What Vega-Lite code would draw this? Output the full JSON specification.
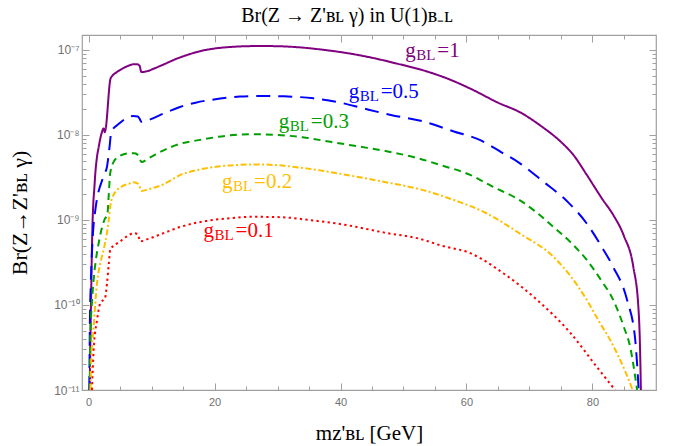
{
  "$schema": "https://vega.github.io/schema/vega-lite/v6.json",
  "width": 574,
  "height": 355,
  "autosize": {"type": "none"},
  "padding": {"left": 82, "top": 35, "right": 28, "bottom": 56},
  "background": "white",
  "config": {"view": {"stroke": "#a0a0a0", "strokeWidth": 1.2}},
  "title": {
    "text": "Br(Z → Z'ʙʟ γ) in U(1)ʙ₋ʟ",
    "font": "Liberation Serif",
    "fontSize": 20,
    "fontWeight": "normal",
    "color": "#000000",
    "anchor": "middle",
    "dx": -22,
    "offset": 9
  },
  "datasets": {
    "curves": [
      {"g": "1", "m": 0.16, "br": 1e-11}, {"g": "1", "m": 0.3, "br": 4.5e-11}, {"g": "1", "m": 0.45, "br": 2.2e-10}, {"g": "1", "m": 0.6, "br": 8e-10}, {"g": "1", "m": 0.75, "br": 1.6e-9}, {"g": "1", "m": 0.9, "br": 2.3e-9}, {"g": "1", "m": 1.06, "br": 3.5e-9}, {"g": "1", "m": 1.3, "br": 5.3e-9}, {"g": "1", "m": 1.6, "br": 7.2e-9}, {"g": "1", "m": 1.9, "br": 9.4e-9}, {"g": "1", "m": 2.15, "br": 1.1e-8}, {"g": "1", "m": 2.35, "br": 1.19e-8}, {"g": "1", "m": 2.45, "br": 1.19e-8}, {"g": "1", "m": 2.55, "br": 1.08e-8}, {"g": "1", "m": 2.65, "br": 1.12e-8}, {"g": "1", "m": 3.5, "br": 4.64e-8}, {"g": "1", "m": 4.5, "br": 5.5e-8}, {"g": "1", "m": 5.5, "br": 6.1e-8}, {"g": "1", "m": 6.5, "br": 6.6e-8}, {"g": "1", "m": 7.1, "br": 6.8e-8}, {"g": "1", "m": 7.7, "br": 6.8e-8}, {"g": "1", "m": 8.1, "br": 6.5e-8}, {"g": "1", "m": 8.37, "br": 5.5e-8}, {"g": "1", "m": 9.2, "br": 5.6e-8}, {"g": "1", "m": 10.5, "br": 6.1e-8}, {"g": "1", "m": 12, "br": 6.8e-8}, {"g": "1", "m": 14, "br": 7.9e-8}, {"g": "1", "m": 16, "br": 8.9e-8}, {"g": "1", "m": 18, "br": 9.8e-8}, {"g": "1", "m": 20, "br": 1.04e-7}, {"g": "1", "m": 23, "br": 1.09e-7}, {"g": "1", "m": 26, "br": 1.11e-7}, {"g": "1", "m": 29, "br": 1.11e-7}, {"g": "1", "m": 33, "br": 1.08e-7}, {"g": "1", "m": 37, "br": 1.01e-7}, {"g": "1", "m": 41, "br": 9.2e-8}, {"g": "1", "m": 45, "br": 8.1e-8}, {"g": "1", "m": 49, "br": 6.9e-8}, {"g": "1", "m": 53, "br": 5.8e-8}, {"g": "1", "m": 57, "br": 4.6e-8}, {"g": "1", "m": 61, "br": 3.4e-8}, {"g": "1", "m": 65, "br": 2.4e-8}, {"g": "1", "m": 68.5, "br": 1.85e-8}, {"g": "1", "m": 72, "br": 1.25e-8}, {"g": "1", "m": 75, "br": 8.3e-9}, {"g": "1", "m": 77, "br": 5.8e-9}, {"g": "1", "m": 79.1, "br": 3.4e-9}, {"g": "1", "m": 81.6, "br": 1.75e-9}, {"g": "1", "m": 83.3, "br": 1.15e-9}, {"g": "1", "m": 85, "br": 6.5e-10}, {"g": "1", "m": 86.5, "br": 2.8e-10}, {"g": "1", "m": 87.3, "br": 9.5e-11}, {"g": "1", "m": 87.57, "br": 3e-11}, {"g": "1", "m": 87.7, "br": 1e-11},

      {"g": "0.5", "m": 0.12, "br": 1e-11}, {"g": "0.5", "m": 0.2, "br": 6e-11}, {"g": "0.5", "m": 0.35, "br": 1.8e-10}, {"g": "0.5", "m": 0.55, "br": 4.5e-10}, {"g": "0.5", "m": 0.8, "br": 9e-10}, {"g": "0.5", "m": 1.06, "br": 1.3e-9}, {"g": "0.5", "m": 1.4, "br": 1.9e-9}, {"g": "0.5", "m": 1.75, "br": 2.4e-9}, {"g": "0.5", "m": 2.2, "br": 3e-9}, {"g": "0.5", "m": 2.6, "br": 3.6e-9}, {"g": "0.5", "m": 2.85, "br": 4e-9}, {"g": "0.5", "m": 3.33, "br": 7.3e-9}, {"g": "0.5", "m": 3.6, "br": 1.09e-8}, {"g": "0.5", "m": 4.9, "br": 1.37e-8}, {"g": "0.5", "m": 6, "br": 1.58e-8}, {"g": "0.5", "m": 7.05, "br": 1.67e-8}, {"g": "0.5", "m": 7.8, "br": 1.65e-8}, {"g": "0.5", "m": 8.1, "br": 1.55e-8}, {"g": "0.5", "m": 8.37, "br": 1.43e-8}, {"g": "0.5", "m": 9.5, "br": 1.5e-8}, {"g": "0.5", "m": 12, "br": 1.8e-8}, {"g": "0.5", "m": 14.6, "br": 2.15e-8}, {"g": "0.5", "m": 17, "br": 2.4e-8}, {"g": "0.5", "m": 20.9, "br": 2.68e-8}, {"g": "0.5", "m": 24, "br": 2.83e-8}, {"g": "0.5", "m": 27.8, "br": 2.88e-8}, {"g": "0.5", "m": 31, "br": 2.85e-8}, {"g": "0.5", "m": 35.7, "br": 2.7e-8}, {"g": "0.5", "m": 40, "br": 2.4e-8}, {"g": "0.5", "m": 43.7, "br": 2.05e-8}, {"g": "0.5", "m": 48, "br": 1.72e-8}, {"g": "0.5", "m": 53, "br": 1.45e-8}, {"g": "0.5", "m": 58, "br": 1.1e-8}, {"g": "0.5", "m": 62.2, "br": 8.7e-9}, {"g": "0.5", "m": 65.5, "br": 6.3e-9}, {"g": "0.5", "m": 68.5, "br": 4.64e-9}, {"g": "0.5", "m": 72, "br": 2.9e-9}, {"g": "0.5", "m": 76.2, "br": 1.6e-9}, {"g": "0.5", "m": 79.1, "br": 9.1e-10}, {"g": "0.5", "m": 81.5, "br": 4.8e-10}, {"g": "0.5", "m": 83.3, "br": 2.8e-10}, {"g": "0.5", "m": 85.5, "br": 1.15e-10}, {"g": "0.5", "m": 86.8, "br": 3.9e-11}, {"g": "0.5", "m": 87.35, "br": 1e-11},

      {"g": "0.3", "m": 0.2, "br": 1e-11}, {"g": "0.3", "m": 0.27, "br": 4.2e-11}, {"g": "0.3", "m": 0.5, "br": 1e-10}, {"g": "0.3", "m": 0.8, "br": 2e-10}, {"g": "0.3", "m": 1.2, "br": 3.6e-10}, {"g": "0.3", "m": 1.59, "br": 5.3e-10}, {"g": "0.3", "m": 2, "br": 7.5e-10}, {"g": "0.3", "m": 2.5, "br": 1e-9}, {"g": "0.3", "m": 3, "br": 1.2e-9}, {"g": "0.3", "m": 3.2, "br": 2e-9}, {"g": "0.3", "m": 3.44, "br": 3.6e-9}, {"g": "0.3", "m": 4.1, "br": 5e-9}, {"g": "0.3", "m": 5, "br": 5.7e-9}, {"g": "0.3", "m": 6.5, "br": 6.1e-9}, {"g": "0.3", "m": 7.3, "br": 6.1e-9}, {"g": "0.3", "m": 8, "br": 5.6e-9}, {"g": "0.3", "m": 8.37, "br": 4.8e-9}, {"g": "0.3", "m": 9.5, "br": 5.3e-9}, {"g": "0.3", "m": 11.9, "br": 6.6e-9}, {"g": "0.3", "m": 14.6, "br": 7.9e-9}, {"g": "0.3", "m": 17.5, "br": 8.7e-9}, {"g": "0.3", "m": 22.5, "br": 9.9e-9}, {"g": "0.3", "m": 26, "br": 1.02e-8}, {"g": "0.3", "m": 30, "br": 1e-8}, {"g": "0.3", "m": 34, "br": 9.4e-9}, {"g": "0.3", "m": 38.4, "br": 8.3e-9}, {"g": "0.3", "m": 43, "br": 7.3e-9}, {"g": "0.3", "m": 47.5, "br": 6.4e-9}, {"g": "0.3", "m": 52, "br": 5.4e-9}, {"g": "0.3", "m": 56, "br": 4.4e-9}, {"g": "0.3", "m": 60.6, "br": 3.39e-9}, {"g": "0.3", "m": 64, "br": 2.5e-9}, {"g": "0.3", "m": 68.5, "br": 1.7e-9}, {"g": "0.3", "m": 71, "br": 1.25e-9}, {"g": "0.3", "m": 73.8, "br": 8.3e-10}, {"g": "0.3", "m": 76.5, "br": 5.5e-10}, {"g": "0.3", "m": 79.1, "br": 3.39e-10}, {"g": "0.3", "m": 81.5, "br": 1.9e-10}, {"g": "0.3", "m": 83.3, "br": 1.15e-10}, {"g": "0.3", "m": 85, "br": 5.5e-11}, {"g": "0.3", "m": 86, "br": 3.2e-11}, {"g": "0.3", "m": 87.1, "br": 1e-11},

      {"g": "0.2", "m": 0.3, "br": 1e-11}, {"g": "0.2", "m": 0.38, "br": 1.9e-11}, {"g": "0.2", "m": 0.8, "br": 5.6e-11}, {"g": "0.2", "m": 1.33, "br": 1.8e-10}, {"g": "0.2", "m": 1.9, "br": 3.2e-10}, {"g": "0.2", "m": 2.38, "br": 4.46e-10}, {"g": "0.2", "m": 2.9, "br": 7e-10}, {"g": "0.2", "m": 3.2, "br": 1e-9}, {"g": "0.2", "m": 3.44, "br": 1.45e-9}, {"g": "0.2", "m": 3.97, "br": 1.98e-9}, {"g": "0.2", "m": 5.2, "br": 2.46e-9}, {"g": "0.2", "m": 6.6, "br": 2.7e-9}, {"g": "0.2", "m": 7.2, "br": 2.78e-9}, {"g": "0.2", "m": 7.9, "br": 2.65e-9}, {"g": "0.2", "m": 8.4, "br": 2.2e-9}, {"g": "0.2", "m": 9.5, "br": 2.3e-9}, {"g": "0.2", "m": 11.9, "br": 2.63e-9}, {"g": "0.2", "m": 14.6, "br": 3.4e-9}, {"g": "0.2", "m": 17.5, "br": 3.9e-9}, {"g": "0.2", "m": 20.5, "br": 4.25e-9}, {"g": "0.2", "m": 23.6, "br": 4.44e-9}, {"g": "0.2", "m": 27, "br": 4.5e-9}, {"g": "0.2", "m": 29.4, "br": 4.44e-9}, {"g": "0.2", "m": 35, "br": 4e-9}, {"g": "0.2", "m": 41, "br": 3.39e-9}, {"g": "0.2", "m": 47, "br": 2.8e-9}, {"g": "0.2", "m": 52.6, "br": 2.3e-9}, {"g": "0.2", "m": 57.9, "br": 1.73e-9}, {"g": "0.2", "m": 63.2, "br": 1.2e-9}, {"g": "0.2", "m": 68.5, "br": 6.9e-10}, {"g": "0.2", "m": 73.8, "br": 3.7e-10}, {"g": "0.2", "m": 76.5, "br": 2.2e-10}, {"g": "0.2", "m": 79.1, "br": 1.15e-10}, {"g": "0.2", "m": 81, "br": 6.5e-11}, {"g": "0.2", "m": 82.8, "br": 3.9e-11}, {"g": "0.2", "m": 85.3, "br": 1.6e-11}, {"g": "0.2", "m": 86.4, "br": 1e-11},

      {"g": "0.1", "m": 0.53, "br": 1e-11}, {"g": "0.1", "m": 0.8, "br": 2.95e-11}, {"g": "0.1", "m": 1.33, "br": 6.6e-11}, {"g": "0.1", "m": 1.86, "br": 1.05e-10}, {"g": "0.1", "m": 2.38, "br": 1.15e-10}, {"g": "0.1", "m": 2.6, "br": 1.2e-10}, {"g": "0.1", "m": 2.92, "br": 1.8e-10}, {"g": "0.1", "m": 3.2, "br": 3e-10}, {"g": "0.1", "m": 3.44, "br": 4.5e-10}, {"g": "0.1", "m": 5.03, "br": 5.6e-10}, {"g": "0.1", "m": 6.2, "br": 6.5e-10}, {"g": "0.1", "m": 7.14, "br": 7e-10}, {"g": "0.1", "m": 7.8, "br": 6.8e-10}, {"g": "0.1", "m": 8.2, "br": 5.6e-10}, {"g": "0.1", "m": 9.5, "br": 6e-10}, {"g": "0.1", "m": 11.9, "br": 7e-10}, {"g": "0.1", "m": 14.6, "br": 8.3e-10}, {"g": "0.1", "m": 17.2, "br": 9.3e-10}, {"g": "0.1", "m": 22.5, "br": 1.05e-9}, {"g": "0.1", "m": 26, "br": 1.09e-9}, {"g": "0.1", "m": 30.4, "br": 1.08e-9}, {"g": "0.1", "m": 35, "br": 1e-9}, {"g": "0.1", "m": 41, "br": 8.7e-10}, {"g": "0.1", "m": 47, "br": 7.1e-10}, {"g": "0.1", "m": 52.6, "br": 6e-10}, {"g": "0.1", "m": 56, "br": 5e-10}, {"g": "0.1", "m": 60.6, "br": 4.07e-10}, {"g": "0.1", "m": 65.9, "br": 2.35e-10}, {"g": "0.1", "m": 71.2, "br": 1.15e-10}, {"g": "0.1", "m": 76.5, "br": 4.7e-11}, {"g": "0.1", "m": 80.7, "br": 1.87e-11}, {"g": "0.1", "m": 83.6, "br": 1e-11}
    ],
    "labels": [
      {"g": "1", "m": 50.3, "br": 8.3e-8, "txt": "=1"},
      {"g": "0.5", "m": 41.3, "br": 2.7e-8, "txt": "=0.5"},
      {"g": "0.3", "m": 30.2, "br": 1.22e-8, "txt": "=0.3"},
      {"g": "0.2", "m": 21.2, "br": 2.36e-9, "txt": "=0.2"},
      {"g": "0.1", "m": 18.25, "br": 6.25e-10, "txt": "=0.1"}
    ]
  },
  "layer": [
    {
      "data": {"name": "curves"},
      "mark": {"type": "line", "clip": true, "strokeWidth": 2, "interpolate": "monotone"},
      "encoding": {
        "x": {
          "field": "m", "type": "quantitative",
          "scale": {"domain": [-1.05, 90.1], "nice": false, "zero": false},
          "axis": {
            "orient": "bottom",
            "values": [0, 5, 10, 15, 20, 25, 30, 35, 40, 45, 50, 55, 60, 65, 70, 75, 80, 85],
            "labelExpr": "datum.value % 20 == 0 ? datum.label : ''",
            "grid": false, "domain": false,
            "tickColor": "#a0a0a0", "tickWidth": 1,
            "tickSize": {"condition": {"test": "datum.value % 20 == 0", "value": -7}, "value": -4},
            "labelPadding": 13,
            "labelColor": "#707070", "labelFont": "Liberation Sans", "labelFontSize": 11,
            "title": "mᴢ'ʙʟ [GeV]",
            "titleFont": "Liberation Serif", "titleFontSize": 21, "titleFontWeight": "normal", "titleColor": "#000000",
            "titlePadding": 15
          }
        },
        "y": {
          "field": "br", "type": "quantitative",
          "scale": {"type": "log", "domain": [1e-11, 1.5e-7], "nice": false},
          "axis": {
            "orient": "left",
            "values": [1e-11, 2e-11, 3e-11, 4e-11, 5e-11, 6e-11, 7e-11, 8e-11, 9e-11, 1e-10, 2e-10, 3e-10, 4e-10, 5e-10, 6e-10, 7e-10, 8e-10, 9e-10, 1e-9, 2e-9, 3e-9, 4e-9, 5e-9, 6e-9, 7e-9, 8e-9, 9e-9, 1e-8, 2e-8, 3e-8, 4e-8, 5e-8, 6e-8, 7e-8, 8e-8, 9e-8, 1e-7],
            "labelExpr": "abs(log(datum.value)/LN10 - round(log(datum.value)/LN10)) > 0.001 ? '' : (round(log(datum.value)/LN10) == -7 ? '10⁻⁷' : round(log(datum.value)/LN10) == -8 ? '10⁻⁸' : round(log(datum.value)/LN10) == -9 ? '10⁻⁹' : round(log(datum.value)/LN10) == -10 ? '10⁻¹⁰' : '10⁻¹¹')",
            "grid": false, "domain": false,
            "tickColor": "#a0a0a0", "tickWidth": 1,
            "tickSize": {"condition": {"test": "abs(log(datum.value)/LN10 - round(log(datum.value)/LN10)) < 0.001", "value": -7}, "value": -4},
            "labelPadding": 10,
            "labelColor": "#707070", "labelFont": "Liberation Sans", "labelFontSize": 12,
            "title": "Br(Z→Z'ʙʟ γ)",
            "titleFont": "Liberation Serif", "titleFontSize": 22, "titleFontWeight": "normal", "titleColor": "#000000",
            "titlePadding": 22
          }
        },
        "color": {
          "field": "g", "type": "nominal",
          "scale": {"domain": ["1", "0.5", "0.3", "0.2", "0.1"], "range": ["#800080", "#0000ff", "#00a000", "#ffbf00", "#ff0000"]},
          "legend": null
        },
        "strokeDash": {
          "field": "g", "type": "nominal",
          "scale": {"domain": ["1", "0.5", "0.3", "0.2", "0.1"], "range": [[1, 0], [14, 8], [7, 5], [6, 2.5, 2, 2.5], [2.3, 3.3]]},
          "legend": null
        }
      }
    },
    {
      "data": {"name": "labels"},
      "mark": {"type": "text", "align": "left", "baseline": "alphabetic", "font": "Liberation Serif", "fontSize": 21},
      "encoding": {
        "x": {
          "field": "m", "type": "quantitative",
          "axis": {
            "orient": "top",
            "values": [0, 5, 10, 15, 20, 25, 30, 35, 40, 45, 50, 55, 60, 65, 70, 75, 80, 85],
            "labels": false, "title": null, "grid": false, "domain": false,
            "tickColor": "#a0a0a0", "tickWidth": 1,
            "tickSize": {"condition": {"test": "datum.value % 20 == 0", "value": -7}, "value": -4}
          }
        },
        "y": {
          "field": "br", "type": "quantitative",
          "axis": {
            "orient": "right",
            "values": [1e-11, 2e-11, 3e-11, 4e-11, 5e-11, 6e-11, 7e-11, 8e-11, 9e-11, 1e-10, 2e-10, 3e-10, 4e-10, 5e-10, 6e-10, 7e-10, 8e-10, 9e-10, 1e-9, 2e-9, 3e-9, 4e-9, 5e-9, 6e-9, 7e-9, 8e-9, 9e-9, 1e-8, 2e-8, 3e-8, 4e-8, 5e-8, 6e-8, 7e-8, 8e-8, 9e-8, 1e-7],
            "labels": false, "title": null, "grid": false, "domain": false,
            "tickColor": "#a0a0a0", "tickWidth": 1,
            "tickSize": {"condition": {"test": "abs(log(datum.value)/LN10 - round(log(datum.value)/LN10)) < 0.001", "value": -7}, "value": -4}
          }
        },
        "text": {"value": "g"},
        "color": {"field": "g", "type": "nominal", "legend": null}
      }
    },
    {
      "data": {"name": "labels"},
      "mark": {"type": "text", "align": "left", "baseline": "alphabetic", "font": "Liberation Serif", "fontSize": 15, "dx": 11, "dy": 3},
      "encoding": {
        "x": {"field": "m", "type": "quantitative", "axis": null},
        "y": {"field": "br", "type": "quantitative", "axis": null},
        "text": {"value": "BL"},
        "color": {"field": "g", "type": "nominal", "legend": null}
      }
    },
    {
      "data": {"name": "labels"},
      "mark": {"type": "text", "align": "left", "baseline": "alphabetic", "font": "Liberation Serif", "fontSize": 21, "dx": 32},
      "encoding": {
        "x": {"field": "m", "type": "quantitative", "axis": null},
        "y": {"field": "br", "type": "quantitative", "axis": null},
        "text": {"field": "txt"},
        "color": {"field": "g", "type": "nominal", "legend": null}
      }
    }
  ],
  "resolve": {"axis": {"x": "independent", "y": "independent"}}
}
